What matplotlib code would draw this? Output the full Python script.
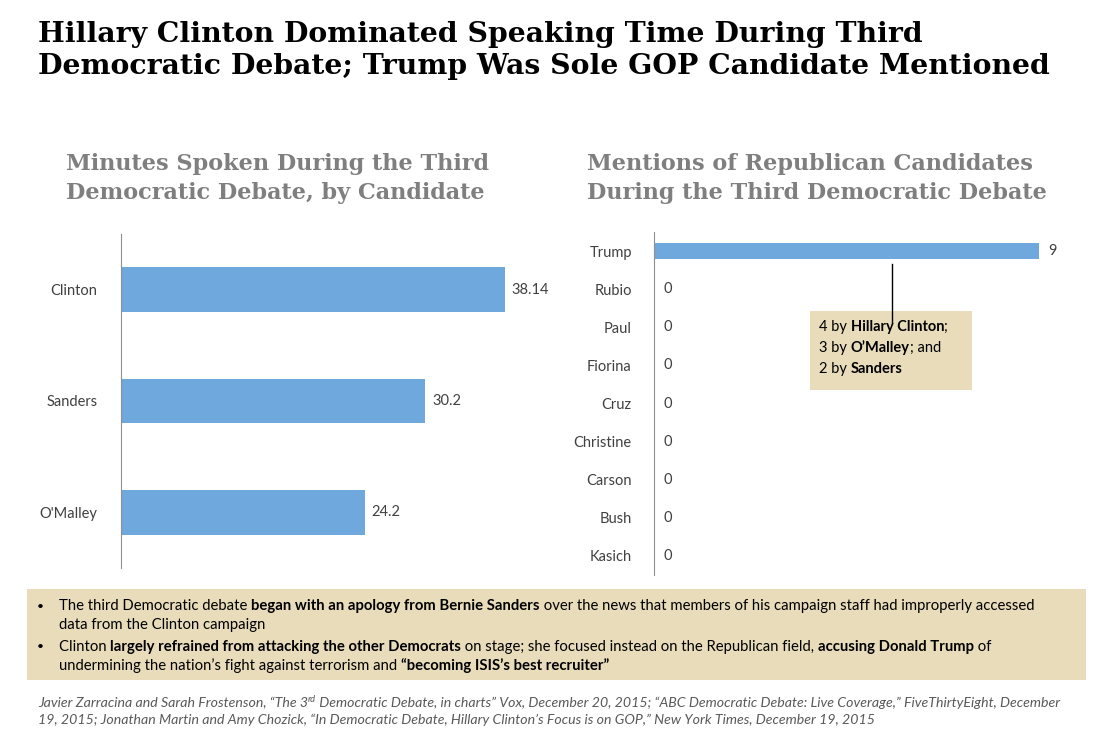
import numpy as np
import matplotlib.pyplot as plt

# data
minutes_names = ["Clinton", "Sanders", "O'Malley"]
minutes_vals = [38.14, 30.2, 24.2]
minutes_labels = ["38.14", "30.2", "24.2"]

gop_names = ["Trump", "Rubio", "Paul", "Fiorina", "Cruz", "Christine", "Carson", "Bush", "Kasich"]
gop_vals = [9, 0, 0, 0, 0, 0, 0, 0, 0]

W, H = 1105, 734
BAR = "#6FA8DC"
TAN = "#E8DCBA"
DARK = "#404040"
GREY = "#7F7F7F"
SRC = "#595959"
SANS = ["Lato", "DejaVu Sans"]
SERIF = ["DejaVu Serif"]

fig = plt.figure(figsize=(W / 100, H / 100), dpi=100)
fig.patch.set_facecolor("white")
renderer = fig.canvas.get_renderer()


def fx(x):
    return x / W


def fy(y):
    return 1 - y / H


def ax_px(left, top, right, bottom):
    return fig.add_axes([fx(left), fy(bottom), (right - left) / W, (bottom - top) / H])


def text_w(s, **kw):
    # width in px, measured between bars so spaces count
    t = fig.text(0, 0, "|" + s + "|", **kw)
    t2 = fig.text(0, 0, "||", **kw)
    w = t.get_window_extent(renderer).width - t2.get_window_extent(renderer).width
    t.remove()
    t2.remove()
    return w


def runs_w(parts, size, family=SANS, style="normal"):
    return sum(text_w(s, fontsize=size, fontweight=wt, family=family, style=style) for s, wt in parts)


def fit_size(s, width, **kw):
    w = text_w(s, fontsize=20, **kw)
    return 20 * width / w


def runs(x, y, parts, size, color="black", family=SANS, style="normal"):
    for s, wt in parts:
        fig.text(fx(x), fy(y), s, fontsize=size, fontweight=wt, color=color,
                 family=family, style=style, va="center", ha="left")
        x += text_w(s, fontsize=size, fontweight=wt, family=family, style=style)
    return x


# main title
ts = fit_size("Hillary Clinton Dominated Speaking Time During Third", 882,
              family=SERIF, fontweight="bold")
fig.text(fx(38), fy(34), "Hillary Clinton Dominated Speaking Time During Third",
         fontsize=ts, fontweight="bold", family=SERIF, va="center")
fig.text(fx(38), fy(66), "Democratic Debate; Trump Was Sole GOP Candidate Mentioned",
         fontsize=ts, fontweight="bold", family=SERIF, va="center")

# sub titles
ss = fit_size("Minutes Spoken During the Third", 426, family=SERIF, fontweight="bold")
for x0, l1, l2 in [(66, "Minutes Spoken During the Third", "Democratic Debate, by Candidate"),
                   (587, "Mentions of Republican Candidates", "During the Third Democratic Debate")]:
    fig.text(fx(x0), fy(164), l1, fontsize=ss, fontweight="bold", family=SERIF, color=GREY, va="center")
    fig.text(fx(x0), fy(193), l2, fontsize=ss, fontweight="bold", family=SERIF, color=GREY, va="center")

# left chart
ax1 = ax_px(121, 234, 575, 568)
y1 = np.arange(len(minutes_names))
ax1.barh(y1, minutes_vals, height=0.4, color=BAR)
ax1.set_ylim(len(minutes_names) - 0.5, -0.5)
ax1.set_xlim(0, 45.1)
ax1.set_yticks(y1)
ax1.set_yticklabels(minutes_names, family=SANS, fontsize=10.5, color=DARK)
ax1.tick_params(axis="y", length=0, pad=17)
ax1.set_xticks([])
for v, lab, yy in zip(minutes_vals, minutes_labels, y1):
    ax1.annotate(lab, (v, yy), xytext=(5, 0), textcoords="offset points",
                 va="center", ha="left", family=SANS, fontsize=10.5, color=DARK)
for s in ["top", "right", "bottom"]:
    ax1.spines[s].set_visible(False)
ax1.spines["left"].set_color("#909090")
ax1.patch.set_alpha(0)

# right chart
ax2 = ax_px(654, 232, 1090, 575)
y2 = np.arange(len(gop_names))
ax2.barh(y2, gop_vals, height=0.42, color=BAR)
ax2.set_ylim(len(gop_names) - 0.5, -0.5)
ax2.set_xlim(0, 10.2)
ax2.set_yticks(y2)
ax2.set_yticklabels(gop_names, family=SANS, fontsize=10.5, color=DARK)
ax2.tick_params(axis="y", length=0, pad=16)
ax2.set_xticks([])
for v, yy in zip(gop_vals, y2):
    ax2.annotate(str(v), (v, yy), xytext=(7, 0), textcoords="offset points",
                 va="center", ha="left", family=SANS, fontsize=10.5, color=DARK)
for s in ["top", "right", "bottom"]:
    ax2.spines[s].set_visible(False)
ax2.spines["left"].set_color("#909090")
ax2.patch.set_alpha(0)

# callout on Trump bar
box = plt.Rectangle((fx(810), fy(390)), (972 - 810) / W, (390 - 311) / H,
                    transform=fig.transFigure, facecolor=TAN, edgecolor="none", zorder=1)
fig.add_artist(box)
fig.add_artist(plt.Line2D([fx(892), fx(892)], [fy(264), fy(322)], color="black", lw=1,
                          transform=fig.transFigure, zorder=3))
runs(819, 327, [("4 by ", "normal"), ("Hillary Clinton", "bold"), (";", "normal")], 10.5)
runs(819, 348, [("3 by ", "normal"), ("O\u2019Malley", "bold"), ("; and", "normal")], 10.5)
runs(819, 369, [("2 by ", "normal"), ("Sanders", "bold")], 10.5)

# bottom notes
note = plt.Rectangle((fx(27), fy(680)), (1086 - 27) / W, (680 - 589) / H,
                     transform=fig.transFigure, facecolor=TAN, edgecolor="none", zorder=1)
fig.add_artist(note)
line1 = [("The third Democratic debate ", "normal"),
         ("began with an apology from Bernie Sanders", "bold"),
         (" over the news that members of his campaign staff had improperly accessed", "normal")]
ns = 10 * 981 / runs_w(line1, 10)
fig.text(fx(37), fy(606), "\u2022", fontsize=ns * 0.8, family=SANS, va="center")
runs(59, 606, line1, ns)
runs(59, 625, [("data from the Clinton campaign", "normal")], ns)
fig.text(fx(37), fy(647), "\u2022", fontsize=ns * 0.8, family=SANS, va="center")
runs(59, 647, [("Clinton ", "normal"),
               ("largely refrained from attacking the other Democrats", "bold"),
               (" on stage; she focused instead on the Republican field, ", "normal"),
               ("accusing Donald Trump", "bold"), (" of", "normal")], ns)
runs(59, 666, [("undermining the nation\u2019s fight against terrorism and ", "normal"),
               ("\u201cbecoming ISIS\u2019s best recruiter\u201d", "bold")], ns)

# sources
src = dict(color=SRC, style="italic")
src2 = [("19, 2015; Jonathan Martin and Amy Chozick, \u201cIn Democratic Debate, Hillary Clinton\u2019s Focus is on GOP,\u201d New York Times, December 19, 2015", "normal")]
fs = 10 * (877 - 38) / runs_w(src2, 10, style="italic")
xx = runs(38, 703, [("Javier Zarracina and Sarah Frostenson, \u201cThe 3", "normal")], fs, **src)
fig.text(fx(xx), fy(699), "rd", fontsize=fs * 0.65, color=SRC, style="italic", family=SANS, va="center")
xx += text_w("rd", fontsize=fs * 0.65, style="italic", family=SANS)
runs(xx, 703, [(" Democratic Debate, in charts\u201d Vox, December 20, 2015; \u201cABC Democratic Debate: Live Coverage,\u201d FiveThirtyEight, December", "normal")], fs, **src)
runs(38, 720, src2, fs, **src)

fig.savefig("out.png", dpi=100)
